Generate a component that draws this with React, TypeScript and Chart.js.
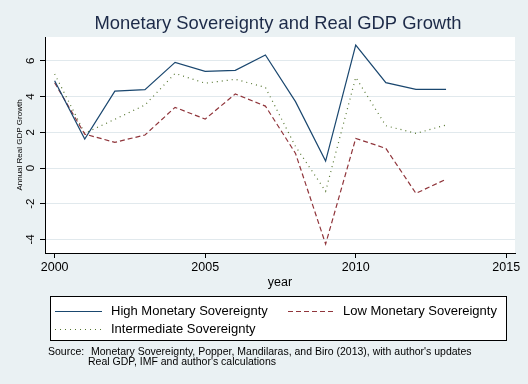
import React, { useEffect, useRef } from 'react';
import { Chart, registerables } from 'chart.js';

Chart.register(...registerables);

const years = [2000, 2001, 2002, 2003, 2004, 2005, 2006, 2007, 2008, 2009, 2010, 2011, 2012, 2013];
const highMS = [4.89, 1.62, 4.31, 4.39, 5.92, 5.42, 5.47, 6.33, 3.72, 0.39, 6.89, 4.78, 4.41, 4.41];
const lowMS = [4.78, 1.9, 1.44, 1.85, 3.4, 2.74, 4.15, 3.47, 0.82, -4.26, 1.66, 1.1, -1.42, -0.63];
const interMS = [5.27, 1.95, 2.73, 3.53, 5.3, 4.75, 4.97, 4.52, 1.21, -1.3, 5.08, 2.37, 1.94, 2.41];

const xTicks = [2000, 2005, 2010, 2015];
const yTicks = [-4, -2, 0, 2, 4, 6];

const seriesNames = ['High Monetary Sovereignty', 'Low Monetary Sovereignty', 'Intermediate Sovereignty'];
const titleText = 'Monetary Sovereignty and Real GDP Growth';
const xTitle = 'year';
const yTitle = 'Annual Real GDP Growth';
const noteLabel = 'Source:';
const noteLines = [
  "Monetary Sovereignty, Popper, Mandilaras, and Biro (2013), with author's updates",
  "Real GDP, IMF and author's calculations",
];

const FONT = '"Liberation Sans", Arial, Helvetica, sans-serif';
const BG = '#eaf1f3';
const GRID = '#e1e9ed';
const NAVY = '#1a476f';
const MAROON = '#90353b';
const GREEN = '#55752f';

const toXY = (vals: number[]) => years.map((yr, i) => ({ x: yr, y: vals[i] }));

const decorPlugin = {
  id: 'decor',
  beforeDraw(chart: any) {
    const { ctx, chartArea: a, width, height } = chart;
    ctx.save();
    ctx.fillStyle = BG;
    ctx.fillRect(0, 0, width, height);
    ctx.fillStyle = '#ffffff';
    ctx.fillRect(a.left, a.top, a.right - a.left, a.bottom - a.top);
    ctx.restore();
  },
  afterDraw(chart: any) {
    const { ctx, chartArea: a } = chart;
    ctx.save();
    // title
    ctx.fillStyle = '#1c2a48';
    ctx.font = `18.4px ${FONT}`;
    ctx.textAlign = 'center';
    ctx.textBaseline = 'middle';
    ctx.fillText(titleText, (a.left + a.right) / 2 - 2, 24);

    // legend box
    const bx = 50, by = 296, bw = 456, bh = 44;
    ctx.fillStyle = '#ffffff';
    ctx.fillRect(bx, by, bw, bh);
    ctx.strokeStyle = '#000000';
    ctx.lineWidth = 1;
    ctx.setLineDash([]);
    ctx.strokeRect(bx + 0.5, by + 0.5, bw, bh);

    const items = [
      { ds: 0, sx: 55, tx: 111, y: 311 },
      { ds: 1, sx: 288, tx: 343, y: 311 },
      { ds: 2, sx: 55, tx: 111, y: 329 },
    ];
    items.forEach((it) => {
      const ds = chart.data.datasets[it.ds];
      ctx.strokeStyle = ds.borderColor;
      ctx.lineWidth = ds.borderWidth;
      ctx.setLineDash(ds.borderDash || []);
      ctx.beginPath();
      ctx.moveTo(it.sx, it.y + 0.5);
      ctx.lineTo(it.sx + 47, it.y + 0.5);
      ctx.stroke();
      ctx.setLineDash([]);
      ctx.fillStyle = '#000000';
      ctx.font = `13px ${FONT}`;
      ctx.textAlign = 'left';
      ctx.textBaseline = 'middle';
      ctx.fillText(ds.label, it.tx, it.y);
    });

    // note
    ctx.fillStyle = '#000000';
    ctx.font = `10.5px ${FONT}`;
    ctx.textAlign = 'left';
    ctx.textBaseline = 'middle';
    ctx.fillText(noteLabel, 48, 352);
    ctx.fillText(noteLines[0], 91, 352);
    ctx.fillText(noteLines[1], 88, 362);
    ctx.restore();
  },
};

export default function App() {
  const ref = useRef<HTMLCanvasElement | null>(null);

  useEffect(() => {
    if (!ref.current) return;
    const chart = new Chart(ref.current, {
      type: 'line',
      data: {
        datasets: [
          {
            label: seriesNames[0],
            data: toXY(highMS),
            borderColor: NAVY,
            borderWidth: 1.2,
            pointRadius: 0,
            tension: 0,
            fill: false,
          },
          {
            label: seriesNames[1],
            data: toXY(lowMS),
            borderColor: MAROON,
            borderWidth: 1.2,
            borderDash: [5, 3],
            pointRadius: 0,
            tension: 0,
            fill: false,
          },
          {
            label: seriesNames[2],
            data: toXY(interMS),
            borderColor: GREEN,
            borderWidth: 1.2,
            borderDash: [1, 4],
            pointRadius: 0,
            tension: 0,
            fill: false,
          },
        ],
      },
      options: {
        animation: false,
        responsive: false,
        devicePixelRatio: 1,
        layout: { padding: { top: 37, right: 13, bottom: 91, left: 0 } },
        plugins: {
          legend: { display: false },
          title: { display: false },
          tooltip: { enabled: false },
        },
        scales: {
          x: {
            type: 'linear',
            min: 1999.68,
            max: 2015.29,
            afterBuildTicks: (s: any) => {
              s.ticks = xTicks.map((v) => ({ value: v }));
            },
            afterFit: (s: any) => {
              s.height = 40;
              s.paddingLeft = 0;
              s.paddingRight = 0;
            },
            grid: { drawOnChartArea: false, drawTicks: true, tickLength: 5, tickColor: '#000000' },
            border: { display: true, color: '#000000', width: 1 },
            ticks: {
              autoSkip: false,
              maxRotation: 0,
              padding: 2,
              color: '#000000',
              font: { family: FONT, size: 12.5 },
              callback: (v: any) => String(v),
            },
            title: {
              display: true,
              text: xTitle,
              color: '#000000',
              font: { family: FONT, size: 12.5 },
              padding: { top: 0, bottom: 2.5 },
            },
          },
          y: {
            type: 'linear',
            min: -4.76,
            max: 7.34,
            afterBuildTicks: (s: any) => {
              s.ticks = yTicks.map((v) => ({ value: v }));
            },
            afterFit: (s: any) => {
              s.width = 45;
              s.paddingTop = 0;
              s.paddingBottom = 0;
            },
            grid: { color: GRID, lineWidth: 1, drawTicks: true, tickLength: 5, tickColor: '#000000' },
            border: { display: true, color: '#000000', width: 1 },
            ticks: {
              autoSkip: false,
              minRotation: 90,
              maxRotation: 90,
              crossAlign: 'center',
              padding: 4,
              color: '#000000',
              font: { family: FONT, size: 11.5 },
              callback: (v: any) => String(v),
            },
            title: {
              display: true,
              text: yTitle,
              color: '#000000',
              font: { family: FONT, size: 8 },
              padding: { top: 15, bottom: 0 },
            },
          },
        },
      },
      plugins: [decorPlugin],
    } as any);
    return () => chart.destroy();
  }, []);

  return (
    <div style={{ position: 'fixed', left: 0, top: 0, width: 528, height: 384 }}>
      <canvas ref={ref} width={528} height={384} style={{ display: 'block', width: 528, height: 384 }} />
    </div>
  );
}
